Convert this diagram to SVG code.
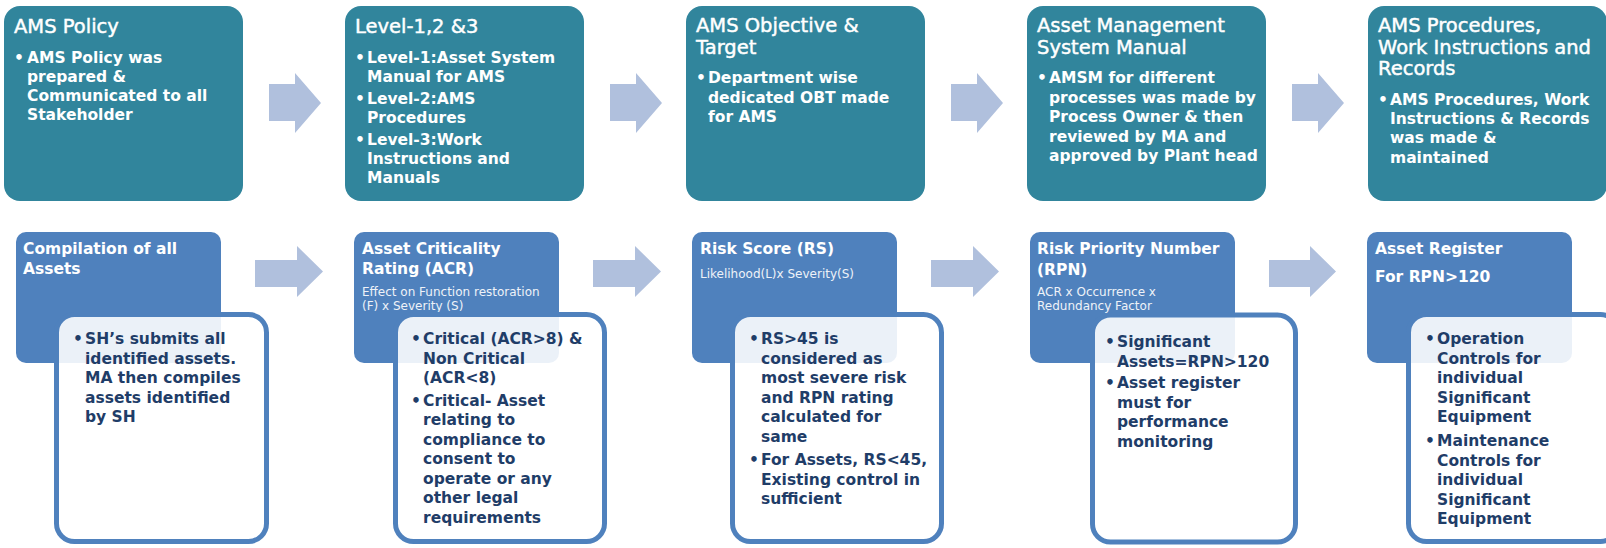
<svg xmlns="http://www.w3.org/2000/svg" width="1606" height="548" viewBox="0 0 1606 548">
  <style>
    .top { fill: #31859c; }
    .hdr { fill: #4f81bd; }
    .card { fill: #ffffff; fill-opacity: 0.89; stroke: #4f81bd; stroke-width: 5; }
    .arrow { fill: #b0c0dd; }
    text { font-family: "DejaVu Sans", Verdana, sans-serif; }
    .t1 { fill: #ffffff; font-size: 19.5px; stroke: #ffffff; stroke-width: 0.45px; }
    .b1 { fill: #ffffff; font-size: 15.5px; font-weight: bold; }
    .t2 { fill: #ffffff; font-size: 15.5px; font-weight: bold; }
    .s2 { fill: #eef2f8; font-size: 12px; }
    .b2 { fill: #1f3d68; font-size: 15.5px; font-weight: bold; }
  </style>

  <!-- connectors: block arrows between steps -->
  <g id="connectors">
    <polygon class="arrow" points="269,84 295,84 295,73 321,103 295,133 295,121 269,121"/>
    <polygon class="arrow" points="610,84 636,84 636,73 662,103 636,133 636,121 610,121"/>
    <polygon class="arrow" points="951,84 977,84 977,73 1003,103 977,133 977,121 951,121"/>
    <polygon class="arrow" points="1292,84 1318,84 1318,73 1344,103 1318,133 1318,121 1292,121"/>
    <polygon class="arrow" points="255,260 297,260 297,246 323,271.5 297,297 297,287 255,287"/>
    <polygon class="arrow" points="593,260 635,260 635,246 661,271.5 635,297 635,287 593,287"/>
    <polygon class="arrow" points="931,260 973,260 973,246 999,271.5 973,297 973,287 931,287"/>
    <polygon class="arrow" points="1269,260 1310,260 1310,246 1336,271.5 1310,297 1310,287 1269,287"/>
  </g>

  <!-- top row -->
  <g id="ams-policy">
    <rect class="top" x="4" y="6" width="239" height="195" rx="16"/>
    <text class="t1" x="14" y="33">AMS Policy</text>
    <text class="b1" x="14" y="63">•</text>
    <text class="b1"><tspan x="27" y="63">AMS Policy was</tspan><tspan x="27" y="82">prepared &amp;</tspan><tspan x="27" y="101">Communicated to all</tspan><tspan x="27" y="120">Stakeholder</tspan></text>
  </g>

  <g id="levels">
    <rect class="top" x="345" y="6" width="239" height="195" rx="16"/>
    <text class="t1" x="355" y="33">Level-1,2 &amp;3</text>
    <text class="b1" x="355" y="63">•</text>
    <text class="b1" x="355" y="104">•</text>
    <text class="b1" x="355" y="145">•</text>
    <text class="b1"><tspan x="367" y="63">Level-1:Asset System</tspan><tspan x="367" y="82">Manual for AMS</tspan><tspan x="367" y="104">Level-2:AMS</tspan><tspan x="367" y="123">Procedures</tspan><tspan x="367" y="145">Level-3:Work</tspan><tspan x="367" y="164">Instructions and</tspan><tspan x="367" y="183">Manuals</tspan></text>
  </g>

  <g id="objective-target">
    <rect class="top" x="686" y="6" width="239" height="195" rx="16"/>
    <text class="t1"><tspan x="696" y="32">AMS Objective &amp;</tspan><tspan x="696" y="54">Target</tspan></text>
    <text class="b1" x="696" y="83">•</text>
    <text class="b1"><tspan x="708" y="83">Department wise</tspan><tspan x="708" y="102.5">dedicated OBT made</tspan><tspan x="708" y="122">for AMS</tspan></text>
  </g>

  <g id="system-manual">
    <rect class="top" x="1027" y="6" width="239" height="195" rx="16"/>
    <text class="t1"><tspan x="1037" y="32">Asset Management</tspan><tspan x="1037" y="54">System Manual</tspan></text>
    <text class="b1" x="1037" y="83">•</text>
    <text class="b1"><tspan x="1049" y="83">AMSM for different</tspan><tspan x="1049" y="102.5">processes was made by</tspan><tspan x="1049" y="122">Process Owner &amp; then</tspan><tspan x="1049" y="141.5">reviewed by MA and</tspan><tspan x="1049" y="161">approved by Plant head</tspan></text>
  </g>

  <g id="procedures-records">
    <rect class="top" x="1368" y="6" width="239" height="195" rx="16"/>
    <text class="t1"><tspan x="1378" y="32">AMS Procedures,</tspan><tspan x="1378" y="54">Work Instructions and</tspan><tspan x="1378" y="75">Records</tspan></text>
    <text class="b1" x="1378" y="105">•</text>
    <text class="b1"><tspan x="1390" y="105">AMS Procedures, Work</tspan><tspan x="1390" y="124">Instructions &amp; Records</tspan><tspan x="1390" y="143">was made &amp;</tspan><tspan x="1390" y="163">maintained</tspan></text>
  </g>

  <!-- bottom row -->
  <g id="compilation">
    <rect class="hdr" x="16" y="232" width="205" height="131" rx="10"/>
    <text class="t2"><tspan x="23" y="254">Compilation of all</tspan><tspan x="23" y="274">Assets</tspan></text>
    <rect class="card" x="56.5" y="314.5" width="210" height="227" rx="18"/>
    <text class="b2" x="73" y="344">•</text>
    <text class="b2"><tspan x="85" y="344">SH’s submits all</tspan><tspan x="85" y="363.5">identified assets.</tspan><tspan x="85" y="383">MA then compiles</tspan><tspan x="85" y="402.5">assets identified</tspan><tspan x="85" y="422">by SH</tspan></text>
  </g>

  <g id="criticality">
    <rect class="hdr" x="354" y="232" width="205" height="131" rx="10"/>
    <text class="t2"><tspan x="362" y="254">Asset Criticality</tspan><tspan x="362" y="274">Rating (ACR)</tspan></text>
    <text class="s2"><tspan x="362" y="296">Effect on Function restoration</tspan><tspan x="362" y="309.5">(F) x Severity (S)</tspan></text>
    <rect class="card" x="395.5" y="314.5" width="209" height="227" rx="18"/>
    <text class="b2" x="411" y="344">•</text>
    <text class="b2" x="411" y="406">•</text>
    <text class="b2"><tspan x="423" y="344">Critical (ACR&gt;8) &amp;</tspan><tspan x="423" y="363.5">Non Critical</tspan><tspan x="423" y="383">(ACR&lt;8)</tspan><tspan x="423" y="406">Critical- Asset</tspan><tspan x="423" y="425">relating to</tspan><tspan x="423" y="444.5">compliance to</tspan><tspan x="423" y="464">consent to</tspan><tspan x="423" y="483.5">operate or any</tspan><tspan x="423" y="503">other legal</tspan><tspan x="423" y="522.5">requirements</tspan></text>
  </g>

  <g id="risk-score">
    <rect class="hdr" x="692" y="232" width="205" height="131" rx="10"/>
    <text class="t2" x="700" y="254">Risk Score (RS)</text>
    <text class="s2" x="700" y="278">Likelihood(L)x Severity(S)</text>
    <rect class="card" x="732.5" y="314.5" width="209" height="227" rx="18"/>
    <text class="b2" x="749" y="344">•</text>
    <text class="b2" x="749" y="465">•</text>
    <text class="b2"><tspan x="761" y="344">RS&gt;45 is</tspan><tspan x="761" y="363.5">considered as</tspan><tspan x="761" y="383">most severe risk</tspan><tspan x="761" y="402.5">and RPN rating</tspan><tspan x="761" y="422">calculated for</tspan><tspan x="761" y="441.5">same</tspan><tspan x="761" y="465">For Assets, RS&lt;45,</tspan><tspan x="761" y="484.5">Existing control in</tspan><tspan x="761" y="504">sufficient</tspan></text>
  </g>

  <g id="risk-priority">
    <rect class="hdr" x="1030" y="232" width="205" height="131" rx="10"/>
    <text class="t2"><tspan x="1037" y="254">Risk Priority Number</tspan><tspan x="1037" y="275">(RPN)</tspan></text>
    <text class="s2"><tspan x="1037" y="296">ACR x Occurrence x</tspan><tspan x="1037" y="310">Redundancy Factor</tspan></text>
    <rect class="card" x="1092.5" y="315" width="203" height="227" rx="18"/>
    <text class="b2" x="1105" y="347">•</text>
    <text class="b2" x="1105" y="388">•</text>
    <text class="b2"><tspan x="1117" y="347">Significant</tspan><tspan x="1117" y="366.5">Assets=RPN&gt;120</tspan><tspan x="1117" y="388">Asset register</tspan><tspan x="1117" y="407.5">must for</tspan><tspan x="1117" y="427">performance</tspan><tspan x="1117" y="446.5">monitoring</tspan></text>
  </g>

  <g id="asset-register">
    <rect class="hdr" x="1367" y="232" width="205" height="131" rx="10"/>
    <text class="t2"><tspan x="1375" y="254">Asset Register</tspan><tspan x="1375" y="282">For RPN&gt;120</tspan></text>
    <rect class="card" x="1408.5" y="314.5" width="210" height="227" rx="18"/>
    <text class="b2" x="1425" y="344">•</text>
    <text class="b2" x="1425" y="446">•</text>
    <text class="b2"><tspan x="1437" y="344">Operation</tspan><tspan x="1437" y="363.5">Controls for</tspan><tspan x="1437" y="383">individual</tspan><tspan x="1437" y="402.5">Significant</tspan><tspan x="1437" y="422">Equipment</tspan><tspan x="1437" y="446">Maintenance</tspan><tspan x="1437" y="465.5">Controls for</tspan><tspan x="1437" y="485">individual</tspan><tspan x="1437" y="504.5">Significant</tspan><tspan x="1437" y="524">Equipment</tspan></text>
  </g>
</svg>
